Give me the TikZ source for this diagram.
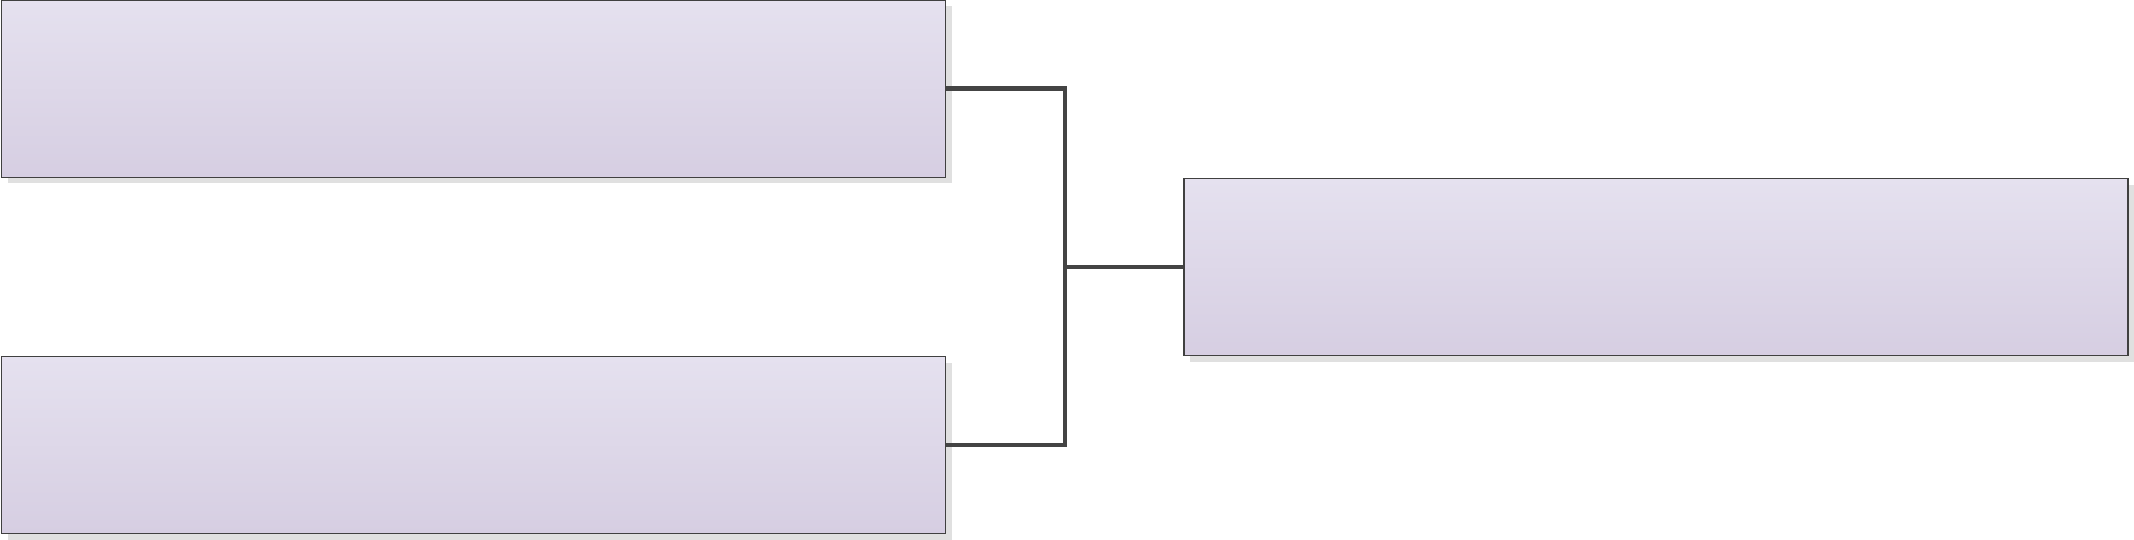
\documentclass[tikz,border=0pt]{standalone}
\usepackage{tikz}
\usetikzlibrary{positioning,shadows,calc}
\definecolor{paneltop}{HTML}{E5E1EF}
\definecolor{panelbot}{HTML}{D6CEE2}
\definecolor{paneledge}{HTML}{404040}
\definecolor{linkgray}{HTML}{444444}

\begin{document}
\begin{tikzpicture}[
	panel/.style={rectangle, draw=paneledge, line width=0.4pt, top color=paneltop, bottom color=panelbot,
		minimum width=9.44cm, minimum height=1.77cm, inner sep=0pt,
		drop shadow={shadow xshift=0.06cm, shadow yshift=-0.06cm, fill=black!12, opacity=1}},
	link/.style={draw=linkgray, line width=1.3pt}]
	\useasboundingbox (0,0) rectangle (21.34,5.39);
	\node[panel] (top) at (4.737,4.503)                         {};
	\node[panel] (bottom) [below=1.78cm of top]                 {};
	\node[panel] (right)  [below right=0cm and 2.37cm of top]   {};
	\coordinate (hub) at ($(top.east)!0.5!(right.west)$);

	\draw[link] (top.east) -| (hub |- bottom.east) -- (bottom.east);
	\draw[link] (hub |- right.west) -- (right.west);
\end{tikzpicture}
\end{document}
